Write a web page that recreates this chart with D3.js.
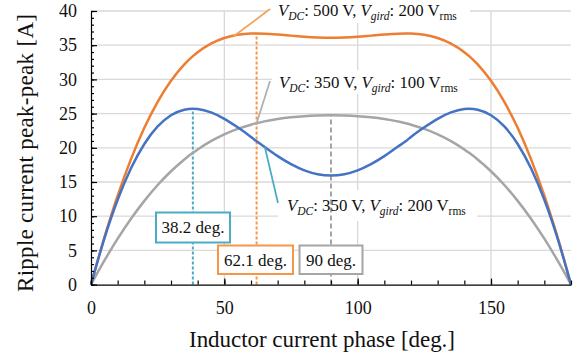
<!DOCTYPE html>
<html>
<head>
<meta charset="utf-8">
<script src="https://cdn.jsdelivr.net/npm/d3@7"></script>
<style>
  html, body { margin: 0; padding: 0; background: #fff; }
  svg { display: block; }
  svg text { font-family: "Liberation Serif", "Times New Roman", serif !important; }
</style>
</head>
<body>
<svg id="chart" width="580" height="360"></svg>
<script>
// ---- data ----
const phase = [0,5,10,15,20,25,30,35,38.2,40,45,50,55,60,62.1,65,70,75,80,85,90,
               95,100,105,110,115,118,120,125,130,135,140,141.8,145,150,155,160,165,170,175,180];
const blue350_200 = [0,6.73,12.40,17.00,20.56,23.12,24.75,25.56,25.70,25.66,25.17,24.24,23.00,21.59,20.95,20.15,18.78,17.61,16.70,16.13,15.94,
                     16.13,16.70,17.61,18.78,20.15,20.95,21.59,23.00,24.24,25.17,25.66,25.70,25.56,24.75,23.12,20.56,17.00,12.40,6.73,0];
const orange500_200 = [0,6.88,13.01,18.35,22.92,26.71,29.79,32.19,33.40,33.98,35.24,36.06,36.52,36.70,36.71,36.69,36.57,36.40,36.23,36.12,36.08,
                       36.12,36.23,36.40,36.57,36.69,36.71,36.70,36.52,36.06,35.24,33.98,33.40,32.19,29.79,26.71,22.92,18.35,13.01,6.88,0];
const gray350_100 = [0,3.49,6.71,9.63,12.24,14.56,16.57,18.30,19.26,19.76,20.98,21.97,22.76,23.38,23.60,23.86,24.21,24.46,24.63,24.72,24.75,
                     24.72,24.63,24.46,24.21,23.86,23.60,23.38,22.76,21.97,20.98,19.76,19.26,18.30,16.57,14.56,12.24,9.63,6.71,3.49,0];

const xMajorTicks = [0, 50, 100, 150];
const xMinorTicks = d3.range(0, 181, 10);
const yMajorTicks = [0, 5, 10, 15, 20, 25, 30, 35, 40];
const yMinorTicks = d3.range(0, 41, 1);

const markers = [
  { phase: 38.2, top: 25.70, label: "38.2 deg.", color: "#4BACC6", dash: "3,2" },
  { phase: 62.1, top: 36.71, label: "62.1 deg.", color: "#F79646", dash: "3,2" },
  { phase: 90,   top: 24.75, label: "90 deg.",   color: "#A5A5A5", dash: "5,3" }
];

const xTitle = "Inductor current phase [deg.]";
const yTitle = "Ripple current peak-peak [A]";

// ---- drawing ----
const svg = d3.select("#chart");
const x = d3.scaleLinear().domain([0, 180]).range([91, 571]);
const y = d3.scaleLinear().domain([0, 40]).range([284.6, 11]);

// grid
const grid = svg.append("g");
grid.selectAll("line.h").data(yMajorTicks.filter(d => d > 0)).join("line")
  .attr("x1", x(0)).attr("x2", x(180))
  .attr("y1", d => y(d)).attr("y2", d => y(d))
  .attr("stroke", "#D9D9D9").attr("stroke-width", 1.3);
grid.selectAll("line.v").data(xMajorTicks.filter(d => d > 0)).join("line")
  .attr("y1", y(0)).attr("y2", y(40))
  .attr("x1", d => x(d)).attr("x2", d => x(d))
  .attr("stroke", "#D9D9D9").attr("stroke-width", 1.3);

// label backgrounds (cover grid)
const labels = [
  { xPos: 278, yPos: 16, vdc: "500", vg: "200", bg: [268, 0, 202, 23], leader: [[270, 9], [x(53.5), y(36.3)]], lc: "#F4A460" },
  { xPos: 279, yPos: 88, vdc: "350", vg: "100", bg: [272, 70, 197, 24], leader: [[270, 81], [x(62.1), y(23.6)]], lc: "#B0B0B0" },
  { xPos: 287, yPos: 211, vdc: "350", vg: "200", bg: [278, 190, 199, 31], leader: [[278, 203], [x(65.2), y(20.1)]], lc: "#4BACC6" }
];
svg.append("g").selectAll("rect").data(labels).join("rect")
  .attr("x", d => d.bg[0]).attr("y", d => d.bg[1]).attr("width", d => d.bg[2]).attr("height", d => d.bg[3])
  .attr("fill", "#fff");

// marker dashed lines
svg.append("g").selectAll("line").data(markers).join("line")
  .attr("x1", d => x(d.phase)).attr("x2", d => x(d.phase))
  .attr("y1", y(0)).attr("y2", d => y(d.top))
  .attr("stroke", d => d.color).attr("stroke-width", 2).attr("stroke-dasharray", d => d.dash);

// curves
const line = d3.line().x((d, i) => x(phase[i])).y(d => y(d)).curve(d3.curveMonotoneX);
const series = [
  { values: gray350_100, color: "#A5A5A5" },
  { values: orange500_200, color: "#ED7D31" },
  { values: blue350_200, color: "#4472C4" }
];
svg.append("g").selectAll("path").data(series).join("path")
  .attr("d", d => line(d.values))
  .attr("fill", "none").attr("stroke", d => d.color).attr("stroke-width", 2.5);

// leaders
svg.append("g").selectAll("line").data(labels).join("line")
  .attr("x1", d => d.leader[0][0]).attr("y1", d => d.leader[0][1])
  .attr("x2", d => d.leader[1][0]).attr("y2", d => d.leader[1][1])
  .attr("stroke", d => d.lc).attr("stroke-width", 1.8);

// label texts
const lt = svg.append("g").selectAll("text").data(labels).join("text")
  .attr("x", d => d.xPos).attr("y", d => d.yPos)
  .attr("font-size", 16.8).attr("fill", "#111");
lt.each(function(d) {
  const t = d3.select(this);
  t.append("tspan").attr("font-style", "italic").text("V");
  t.append("tspan").attr("font-style", "italic").attr("font-size", 11.5).attr("dy", 4).text("DC");
  t.append("tspan").attr("dy", -4).text(": " + d.vdc + " V, ");
  t.append("tspan").attr("font-style", "italic").text("V");
  t.append("tspan").attr("font-style", "italic").attr("font-size", 11.5).attr("dy", 4).text("gird");
  t.append("tspan").attr("dy", -4).text(": " + d.vg + " V");
  t.append("tspan").attr("font-size", 11.5).attr("dy", 4).text("rms");
});

// marker boxes
const boxes = [
  { m: markers[0], bx: 156, by: 212.5, bw: 74, bh: 30 },
  { m: markers[1], bx: 218, by: 245.5, bw: 75, bh: 28.5 },
  { m: markers[2], bx: 299.5, by: 245.5, bw: 63, bh: 28.5 }
];
const bg = svg.append("g").selectAll("g").data(boxes).join("g");
bg.append("rect")
  .attr("x", d => d.bx).attr("y", d => d.by).attr("width", d => d.bw).attr("height", d => d.bh)
  .attr("fill", "#fff").attr("stroke", d => d.m.color).attr("stroke-width", 2);
bg.append("text")
  .attr("x", d => d.bx + d.bw / 2).attr("y", d => d.by + d.bh / 2 + 5.8)
  .attr("text-anchor", "middle").attr("font-size", 17).attr("fill", "#111")
  .text(d => d.m.label);

// axes
svg.append("g").attr("transform", `translate(0,${y(0)})`)
  .call(d3.axisBottom(x).tickValues(xMajorTicks).tickSizeInner(-6).tickSizeOuter(0).tickPadding(17).tickFormat(d3.format("d")));
svg.append("g").attr("transform", `translate(0,${y(0)})`)
  .call(d3.axisBottom(x).tickValues(xMinorTicks).tickSizeInner(-4).tickSizeOuter(0).tickFormat(""))
  .select(".domain").remove();
svg.append("g").attr("transform", `translate(${x(0)},0)`)
  .call(d3.axisLeft(y).tickValues(yMajorTicks).tickSizeInner(-6).tickSizeOuter(0).tickPadding(14).tickFormat(d3.format("d")));
svg.append("g").attr("transform", `translate(${x(0)},0)`)
  .call(d3.axisLeft(y).tickValues(yMinorTicks).tickSizeInner(-3).tickSizeOuter(0).tickFormat(""))
  .select(".domain").remove();
svg.selectAll(".tick text").attr("font-size", 18).attr("fill", "#111");
svg.selectAll(".domain, .tick line").attr("stroke", "#000").attr("stroke-width", 1.2);

// titles
svg.append("text").attr("x", 322).attr("y", 347).attr("text-anchor", "middle")
  .attr("font-size", 23).attr("fill", "#111")
  .attr("textLength", 266).attr("lengthAdjust", "spacing").text(xTitle);
svg.append("text").attr("transform", "translate(33,153) rotate(-90)").attr("text-anchor", "middle")
  .attr("font-size", 23).attr("fill", "#111")
  .attr("textLength", 278).attr("lengthAdjust", "spacing").text(yTitle);
</script>
</body>
</html>
